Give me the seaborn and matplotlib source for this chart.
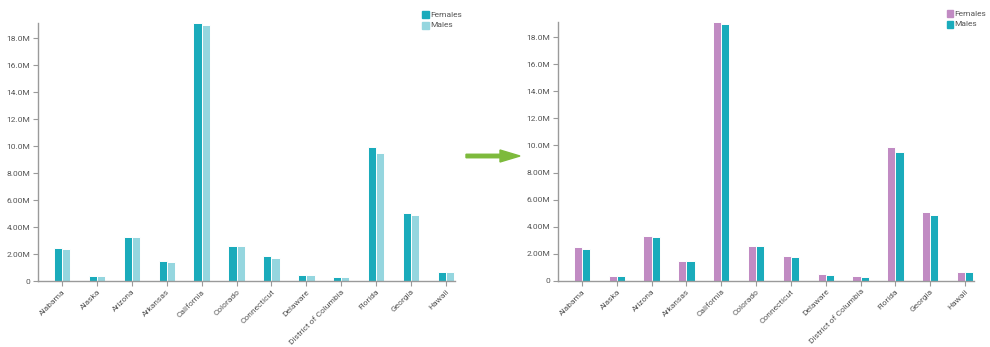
import matplotlib
matplotlib.use("Agg")
import matplotlib.pyplot as plt
from matplotlib.ticker import FuncFormatter, MultipleLocator
from matplotlib.patches import FancyArrow, Rectangle
import seaborn as sns
import pandas as pd

states = ["Alabama", "Alaska", "Arizona", "Arkansas", "California", "Colorado",
          "Connecticut", "Delaware", "District of Columbia", "Florida", "Georgia", "Hawaii"]
females = [2.47e6, 0.35e6, 3.28e6, 1.48e6, 19.13e6, 2.57e6,
           1.82e6, 0.46e6, 0.33e6, 9.90e6, 5.07e6, 0.66e6]
males = [2.36e6, 0.37e6, 3.25e6, 1.43e6, 18.95e6, 2.58e6,
         1.72e6, 0.43e6, 0.29e6, 9.50e6, 4.87e6, 0.68e6]
series = ["Females", "Males"]

TEAL = "#1aabbb"
LIGHT_TEAL = "#95d6df"
PURPLE = "#c18bc3"
AXIS_GRAY = "#9a9a9a"
TEXT_GRAY = "#555555"

W, H = 990, 347

df = pd.DataFrame({
    "state": states * 2,
    "sex": [series[0]] * len(states) + [series[1]] * len(states),
    "population": females + males,
})

sns.set_theme(style="white")
plt.rcParams["font.family"] = ["Roboto", "DejaVu Sans"]


def si_format(v, _pos=None):
    if v == 0:
        return "0"
    m = v / 1e6
    if m >= 10:
        return f"{m:.1f}M"
    return f"{m:.2f}M"


fig = plt.figure(figsize=(W / 100, H / 100), dpi=100)
ax_left = fig.add_axes([38 / W, 66 / H, 417 / W, 258 / H])
ax_right = fig.add_axes([558 / W, 66.3 / H, 416 / W, 258.7 / H])


def px(x, y):
    """Pixel position (from top-left) to figure fraction."""
    return x / W, 1 - y / H


def draw(ax, palette, legend_x, legend_y):
    sns.barplot(data=df, x="state", y="population", hue="sex", order=states,
                hue_order=series, palette=palette, width=0.47, saturation=1,
                edgecolor="white", linewidth=0.7, errorbar=None, legend=False, ax=ax)
    ax.set_xlim(-0.69, 11.26)
    ax.set_ylim(0, max(females + males))
    ax.yaxis.set_major_locator(MultipleLocator(2e6))
    ax.yaxis.set_major_formatter(FuncFormatter(si_format))
    ax.set_xlabel("")
    ax.set_ylabel("")
    for side in ("top", "right"):
        ax.spines[side].set_visible(False)
    for side in ("left", "bottom"):
        ax.spines[side].set_color(AXIS_GRAY)
        ax.spines[side].set_linewidth(1.0)
    ax.tick_params(axis="both", which="major", direction="out", length=3.5,
                   width=0.8, color=AXIS_GRAY, labelsize=6, labelcolor=TEXT_GRAY,
                   left=True, bottom=True, pad=2)
    for lbl in ax.get_xticklabels():
        lbl.set_rotation(45)
        lbl.set_ha("right")
        lbl.set_rotation_mode("anchor")
    ax.set_facecolor("white")

    # legend in the top-right corner
    for i, (name, color) in enumerate(zip(series, palette)):
        cy = legend_y + i * 10.8
        x0, y0 = px(legend_x, cy + 3.2)
        fig.add_artist(Rectangle((x0, y0), 6.5 / W, 6.4 / H, transform=fig.transFigure,
                                 color=color))
        tx, ty = px(legend_x + 8, cy)
        fig.text(tx, ty, name, fontsize=6, color=TEXT_GRAY, va="center", ha="left")


draw(ax_left, [TEAL, LIGHT_TEAL], 422, 14.6)
draw(ax_right, [PURPLE, TEAL], 946.7, 13.7)

# arrow between the two panels
x0, y0 = px(466, 156)
fig.add_artist(FancyArrow(x0, y0, 54 / W, 0, width=3.5 / H,
                          head_width=12 / H, head_length=20 / W,
                          length_includes_head=True, color="#7dba3c",
                          transform=fig.transFigure))

fig.savefig("out.png", dpi=100, facecolor="white")
